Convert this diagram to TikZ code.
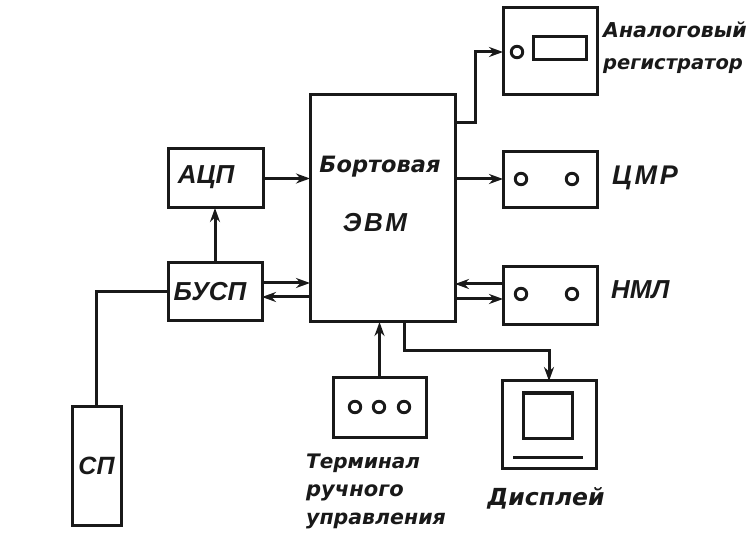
\documentclass[tikz,border=0pt]{standalone}
\usepackage{fontspec}
\setmainfont{Liberation Sans}
\newfontfamily\wideA{DejaVu Sans}
\newfontfamily\wideB[LetterSpace=10]{Liberation Sans}
\usetikzlibrary{arrows.meta,calc}
\colorlet{ink}{black!90}
\tikzset{
  ln/.style={line width=3pt,ink},
  box/.style={draw=ink,line width=3pt,outer sep=0pt,inner sep=0pt,rectangle,text=ink,font=\bfseries\itshape\fontsize{25}{25}\selectfont},
  inner/.style={draw=ink,line width=3pt},
  hole/.style={circle,draw=ink,line width=2.9pt,minimum size=11.5pt,inner sep=0pt,outer sep=0pt},
  conn/.style={ln,-{Stealth[length=14pt,width=10pt]}},
  plain/.style={ln},
  lab/.style={inner sep=0pt,align=left,text=ink},
  labbig/.style={font=\wideB\bfseries\itshape\fontsize{26}{26}\selectfont,inner sep=0pt,text=ink}
}
\begin{document}
\begin{tikzpicture}[x=1pt,y=-1pt]
\useasboundingbox (0,0) rectangle (750,545);
% main blocks
\node[box,minimum width=145pt,minimum height=227pt] (main) at (382.5,208.5) {};
\node[lab,font=\wideA\bfseries\itshape\fontsize{22.5}{23}\selectfont] (bort) at (380,167) {Бортовая};
\node[labbig] (evm) at (375,223) {ЭВМ};
\node[box,minimum width=95pt,minimum height=59pt] (acp) at (215.5,178.5) {};
\node[lab,font=\bfseries\itshape\fontsize{26}{26}\selectfont] (acpt) at (206,177) {АЦП};
\node[box,minimum width=94pt,minimum height=58pt] (busp) at (215,292) {};
\node[lab,font=\bfseries\itshape\fontsize{26}{26}\selectfont] (buspt) at (210,292) {БУСП};
\node[box,minimum width=49pt,minimum height=119pt] (sp) at (96.5,465.5) {СП};
% analog recorder
\node[box,minimum width=94pt,minimum height=87pt] (rec) at (550,51.5) {};
\node[hole] (rech) at (517,52) {};
\node[inner,rectangle,minimum width=53pt,minimum height=23pt,inner sep=0pt] (recw) at (559.5,48.5) {};
\node[lab,anchor=base west,font=\wideA\bfseries\itshape\fontsize{20.5}{21}\selectfont] (reclabA) at (603,38) {Аналоговый};
\node[lab,anchor=base west,font=\wideA\bfseries\itshape\fontsize{19.5}{20}\selectfont] (reclabB) at (603,70) {регистратор};
% CMR
\node[box,minimum width=94pt,minimum height=56pt] (cmr) at (550,180) {};
\node[hole] (cmra) at (521,179) {};
\node[hole] (cmrb) at (572,179) {};
\node[labbig,anchor=west,font=\wideB\bfseries\itshape\fontsize{27}{27}\selectfont] (cmrlab) at (612,178) {ЦМР};
% NMP
\node[box,minimum width=94pt,minimum height=58pt] (nmp) at (550,296) {};
\node[hole] (nmpa) at (521,294) {};
\node[hole] (nmpb) at (572,294) {};
\node[labbig,anchor=west,font=\bfseries\itshape\fontsize{26}{26}\selectfont] (nmplab) at (611,290) {НМЛ};
% terminal
\node[box,minimum width=93pt,minimum height=59pt] (term) at (379.5,407.5) {};
\node[hole] (ta) at (355,407) {};
\node[hole] (tb) at (379,407) {};
\node[hole] (tc) at (404,407) {};
\node[lab,anchor=base west,font=\wideA\bfseries\itshape\fontsize{20}{20}\selectfont] (termA) at (306,468) {Терминал};
\node[lab,anchor=base west,font=\wideA\bfseries\itshape\fontsize{21}{21}\selectfont] (termB) at (306,496) {ручного};
\node[lab,anchor=base west,font=\wideA\bfseries\itshape\fontsize{20.5}{21}\selectfont] (termC) at (306,524) {управления};
% display
\node[box,minimum width=94pt,minimum height=87pt] (disp) at (549,424.5) {};
\node[inner,rectangle,minimum width=49pt,minimum height=45pt,inner sep=0pt] (dispw) at (547.5,415.5) {};
\coordinate (dl) at (513,457);
\coordinate (dr) at (583,457);
\draw[ln] (dl) -- (dr);
\node[lab,font=\wideA\bfseries\itshape\fontsize{23.5}{24}\selectfont] (displab) at (546,498) {Дисплей};
% connectors
\coordinate (mo) at (main.east |- 0,123);
\coordinate (dispbus) at (404,351);
\draw[conn] (acp.east) -- (acp.east -| main.west);
\draw[conn] (busp.north) -- (busp.north |- acp.south);
\draw[conn] ([yshift=9pt]busp.east) -- ([yshift=9pt]busp.east -| main.west);
\draw[conn] ([yshift=-5pt]busp.east -| main.west) -- ([yshift=-5pt]busp.east);
\draw[plain] (busp.west) -| (sp.north);
\draw[conn] (mo) -- ++(20,0) |- (rech -| rec.west);
\draw[conn] (main.east |- cmra) -- (cmr.west |- cmra);
\draw[conn] (nmp.west |- 0,284) -- (main.east |- 0,284);
\draw[conn] (main.east |- 0,299) -- (nmp.west |- 0,299);
\draw[conn] (term.north) -- (term.north |- main.south);
\draw[conn] (dispbus |- main.south) -- (dispbus) -| (disp.north);
\end{tikzpicture}
\end{document}
